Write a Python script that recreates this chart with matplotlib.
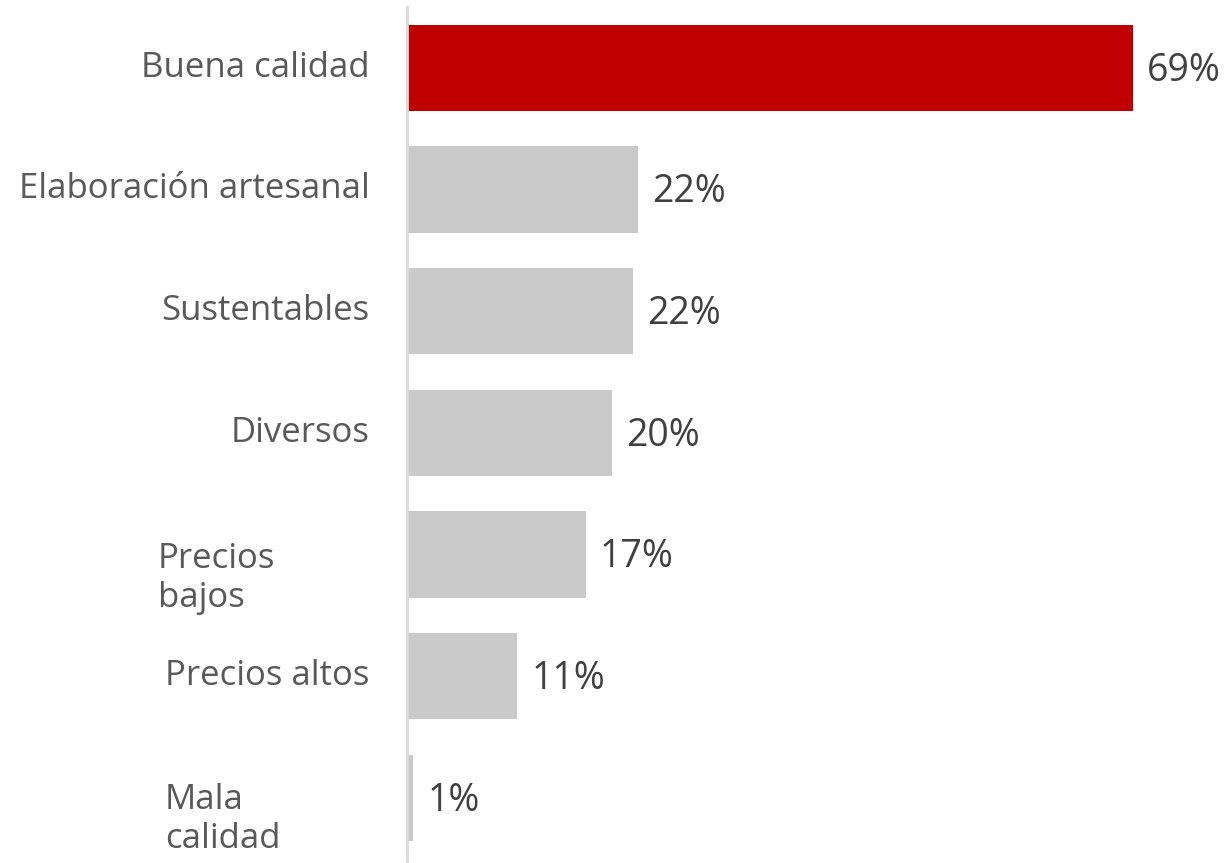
import matplotlib
matplotlib.use("Agg")
import matplotlib.pyplot as plt
from matplotlib.transforms import blended_transform_factory

categories = ["Buena calidad", "Elaboración artesanal", "Sustentables", "Diversos",
              "Precios bajos", "Precios altos", "Mala calidad"]
values = [69, 22, 21.5, 19.5, 17, 10.5, 0.6]
value_labels = ["69%", "22%", "22%", "20%", "17%", "11%", "1%"]
colors = ["#C00000"] + ["#C9C9C9"] * 6

plt.rcParams['font.family'] = ['Open Sans', 'DejaVu Sans']

fig = plt.figure(figsize=(12.3, 8.63), dpi=100)
ax = fig.add_axes([407/1230, 2/863, (1217-407)/1230, (856-2)/863])
y = list(range(len(categories)))
ax.barh(y, values, height=0.71, color=colors, zorder=2)
ax.set_ylim(6.52, -0.5)
ax.set_xlim(0, 77)

for yi, v, lab in zip(y, values, value_labels):
    ax.annotate(lab, (v, yi), xytext=(10, -2), textcoords="offset points",
                ha="left", va="center", fontsize=27, color="#404040",
                annotation_clip=False)

two_line = {"Precios bajos": ("Precios\nbajos", 158, 0.2),
            "Mala calidad": ("Mala\ncalidad", 165, 0.18)}
blend = blended_transform_factory(fig.transFigure, ax.transData)
for yi, cat in zip(y, categories):
    if cat in two_line:
        txt, xpx, dy = two_line[cat]
        ax.text(xpx / 1230, yi + dy, txt, transform=blend,
                ha="left", va="center", fontsize=25, color="#595959",
                linespacing=1.2)
    else:
        ax.annotate(cat, (0, yi), xytext=(-27, 0), textcoords="offset points",
                    ha="right", va="center", fontsize=25, color="#595959")

ax.set_yticks([])
ax.set_xticks([])
for s in ["top", "right", "bottom"]:
    ax.spines[s].set_visible(False)
ax.spines["left"].set_color("#D9D9D9")
ax.spines["left"].set_linewidth(2)

fig.savefig("out.png", dpi=100, facecolor="white")
